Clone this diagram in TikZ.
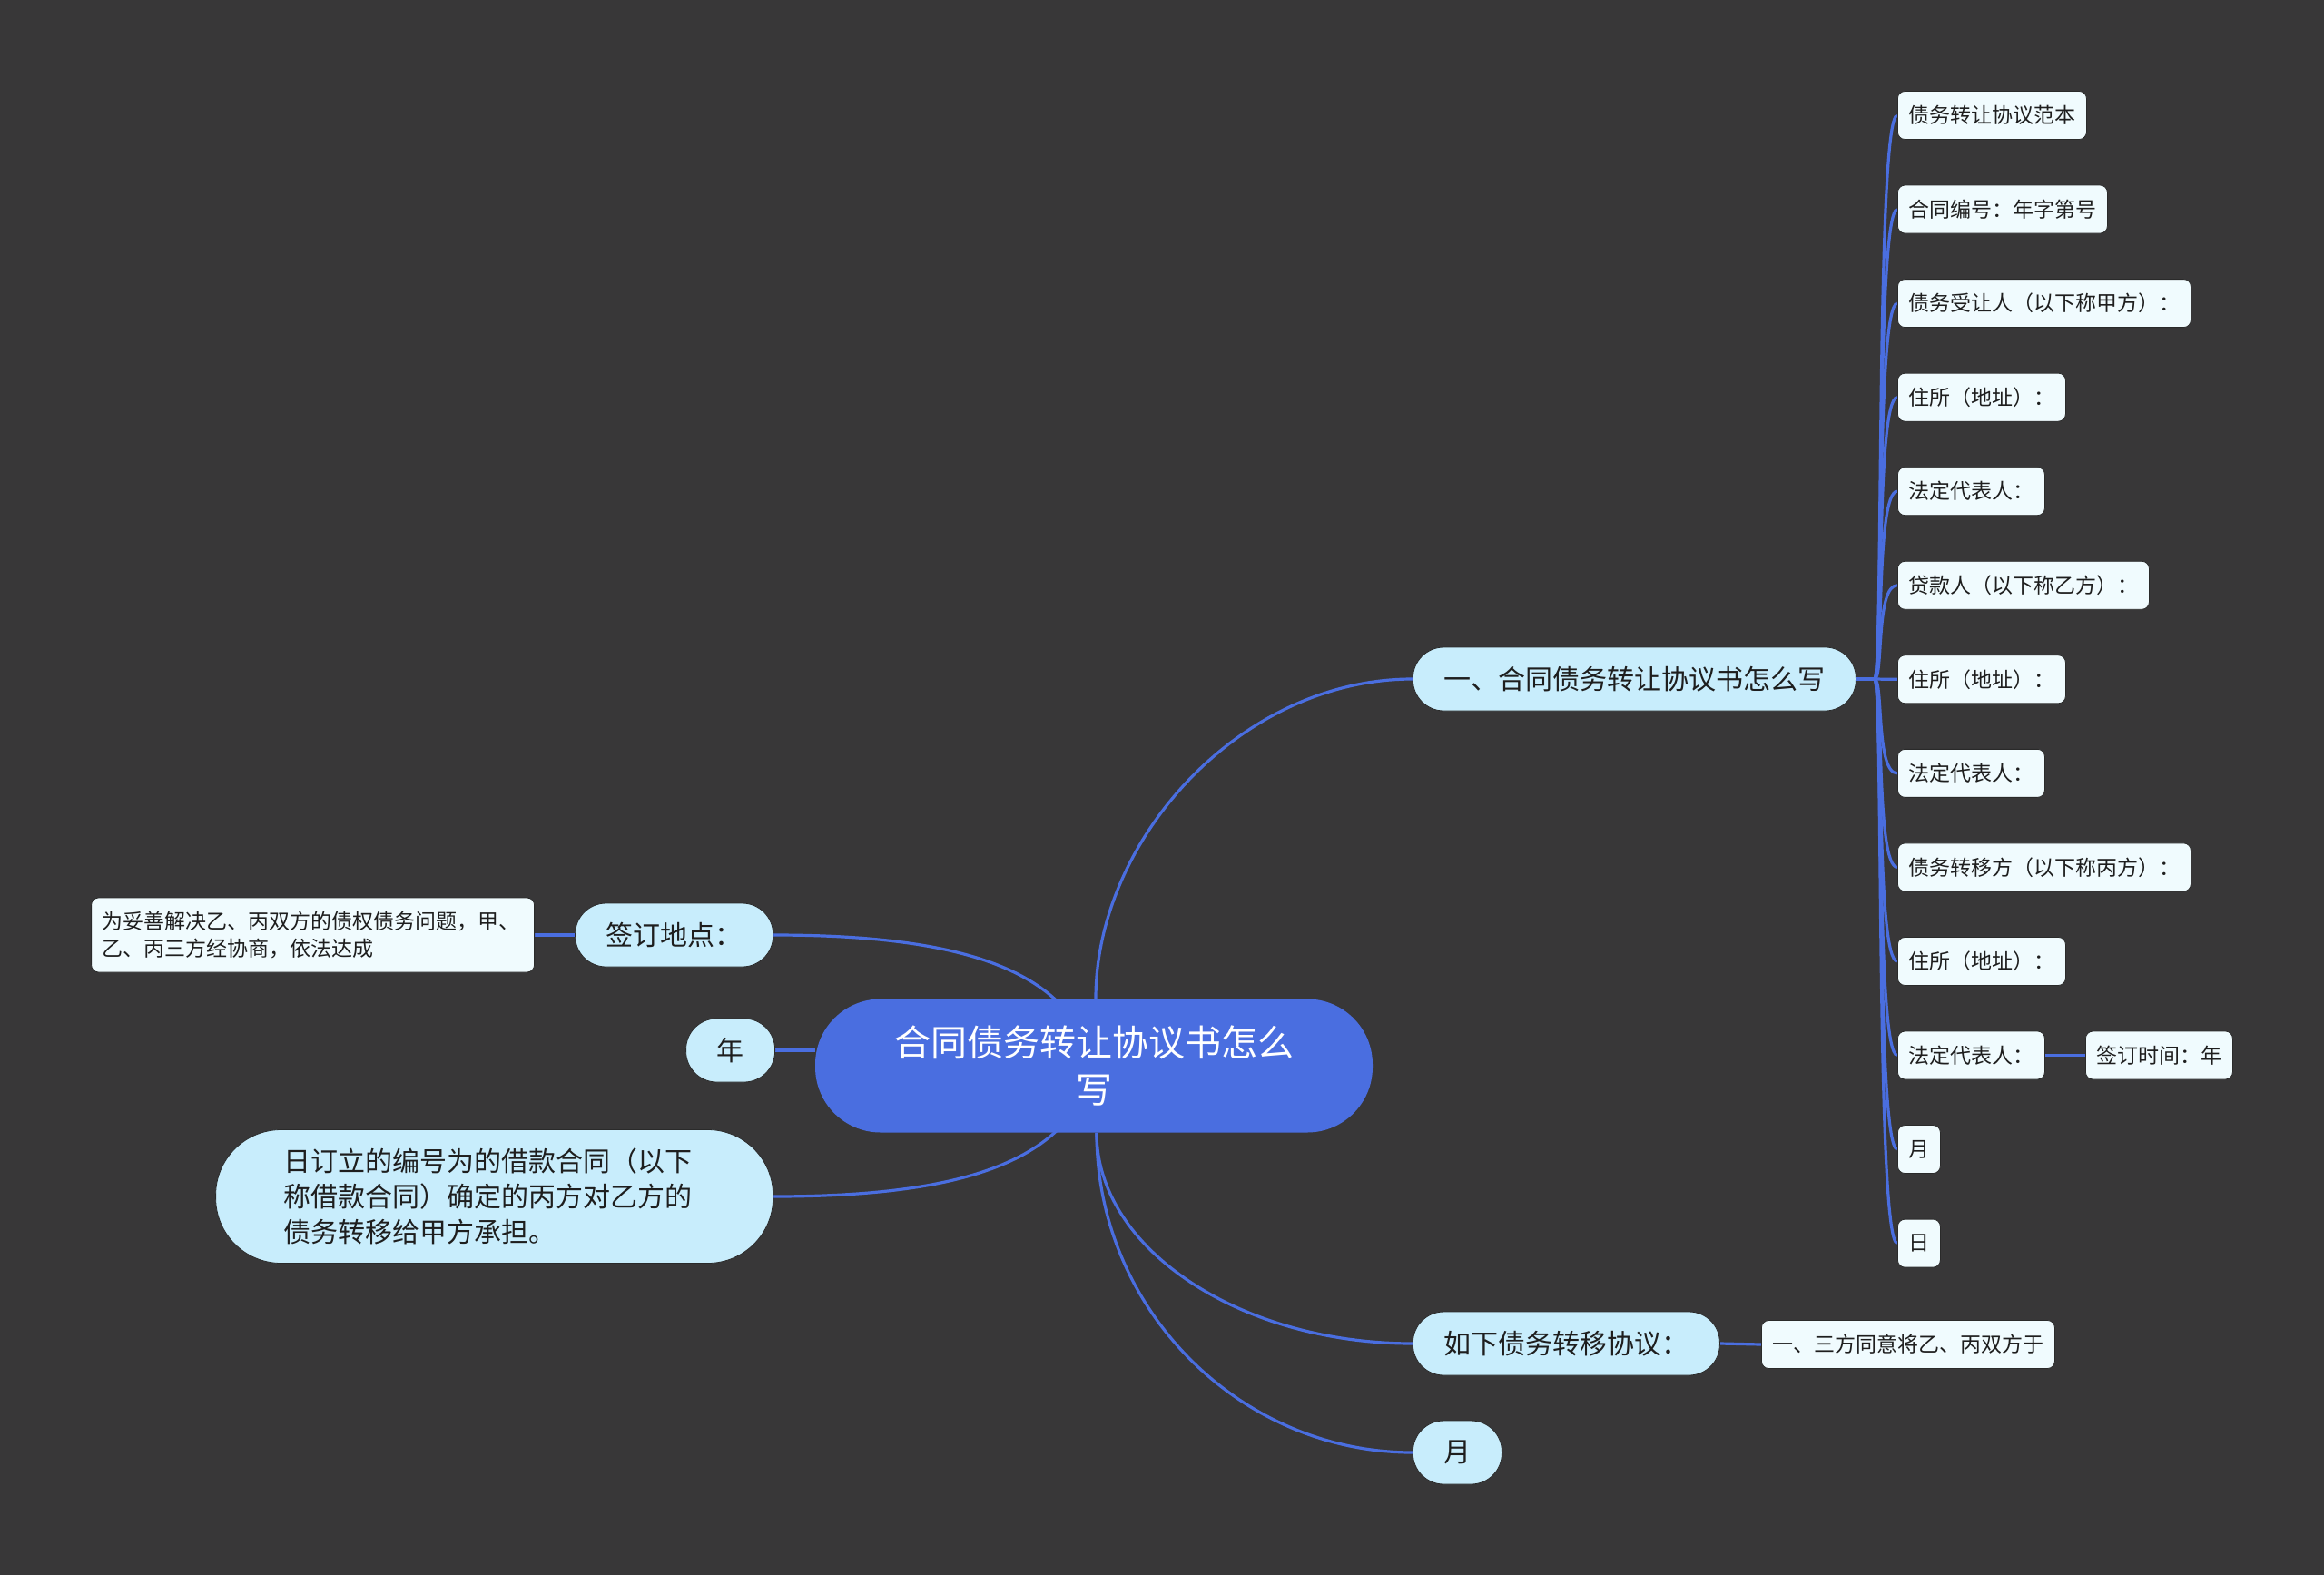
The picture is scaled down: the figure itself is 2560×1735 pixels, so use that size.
\documentclass[tikz,border=0pt]{standalone}
\usepackage{fontspec}
\setmainfont{Noto Sans CJK SC}
\usetikzlibrary{calc}
\pgfdeclarelayer{back}
\pgfdeclarelayer{bg}
\pgfsetlayers{back,bg,main}
\definecolor{bgc}{HTML}{383738}
\definecolor{linec}{HTML}{4A6EE0}
\definecolor{rootc}{HTML}{4A6EE0}
\definecolor{lonec}{HTML}{C8EDFC}
\definecolor{ltwoc}{HTML}{F0FBFE}
\definecolor{txtc}{HTML}{1E1E1E}
\definecolor{edgec}{HTML}{2A2A2A}
\begin{document}
\begin{tikzpicture}[x=0.5pt,y=-0.5pt,
  rootnode/.style={fill=rootc, text=white, font=\fontsize{20}{26}\selectfont,
    rounded corners=36pt, minimum width=307pt, minimum height=73.5pt,
    align=center, inner sep=0pt},
  lone/.style={fill=lonec, draw=edgec, line width=0.4pt, text=txtc,
    font=\fontsize{15}{19.5}\selectfont, rounded corners=17pt,
    minimum height=35pt, inner xsep=17pt, inner ysep=0pt},
  ltwo/.style={fill=ltwoc, draw=edgec, line width=0.4pt, text=txtc,
    font=\fontsize{11.5}{14.7}\selectfont, rounded corners=4pt,
    minimum height=26.5pt, inner xsep=6pt, inner ysep=0pt},
  link/.style={draw=linec, line width=1.6pt}]
\useasboundingbox (0,0) rectangle (2560,1735);
\begin{pgfonlayer}{back}
\fill[bgc] (0,0) rectangle (2560,1735);
\end{pgfonlayer}

% root
\node[rootnode] (root) at (1205,1174) {合同债务转让协议书怎么\\写};

% right level-1
\node[lone, anchor=west] (b1) at (1556,748) {一、合同债务转让协议书怎么写};
\node[lone, anchor=west] (b2) at (1556,1480) {如下债务转移协议：};
\node[lone, anchor=west] (b3) at (1556,1600) {月};

% left level-1
\node[lone, anchor=east] (a1) at (852,1030) {签订地点：};
\node[lone, anchor=east] (a2) at (854,1157) {年};
\node[lone, anchor=east, text width=232pt, inner xsep=37.5pt, align=left,
  minimum height=73.5pt, rounded corners=36pt, font=\fontsize{15}{19.5}\selectfont]
  (a3) at (852,1318) {日订立的编号为的借款合同（以下\\称借款合同）确定的丙方对乙方的\\债务转移给甲方承担。};

% left level-2
\node[ltwo, anchor=east, text width=232pt, align=left, minimum height=41pt]
  (d1) at (589,1030) {为妥善解决乙、丙双方的债权债务问题，甲、\\乙、丙三方经协商，依法达成};

% right column
\foreach \i/\t in {0/债务转让协议范本,1/合同编号：年字第号,2/债务受让人（以下称甲方）：,
  3/住所（地址）：,4/法定代表人：,5/贷款人（以下称乙方）：,6/住所（地址）：,
  7/法定代表人：,8/债务转移方（以下称丙方）：,9/住所（地址）：,10/法定代表人：,
  11/月,12/日}{
  \node[ltwo, anchor=west] (r\i) at (2090,{127+103.55*\i}) {\t};
}
\node[ltwo, anchor=west] (t1) at (2297,1162.5) {签订时间：年};
\node[ltwo, anchor=west] (c1) at (1940,1481) {一、三方同意将乙、丙双方于};

% connectors
\begin{pgfonlayer}{bg}
\draw[link] ($(root.north)+(2,0)$) .. controls +(0,-175) and +(-190,0) .. (b1.west);
\draw[link] ($(root.south)+(3,0)$) .. controls +(0,128) and +(-190,0) .. (b2.west);
\draw[link] ($(root.south)+(3,0)$) .. controls +(0,195) and +(-190,0) .. (b3.west);
\draw[link] (a1.east) .. controls +(210,0) and +(-25,-105) .. (root.center);
\draw[link] (a3.east) .. controls +(210,0) and +(-25,105) .. (root.center);
\draw[link] (a2.east) -- (a2.east -| root.west);
\foreach \i in {0,...,12}{
  \draw[link] (b1.east) -- +(20,0) .. controls +(10,0) and +(-24,0) .. (r\i.west);
}
\draw[link] (r10.east) -- (t1.west);
\draw[link] (b2.east) -- (c1.west);
\draw[link] (a1.west) -- (d1.east);
\end{pgfonlayer}
\end{tikzpicture}
\end{document}
